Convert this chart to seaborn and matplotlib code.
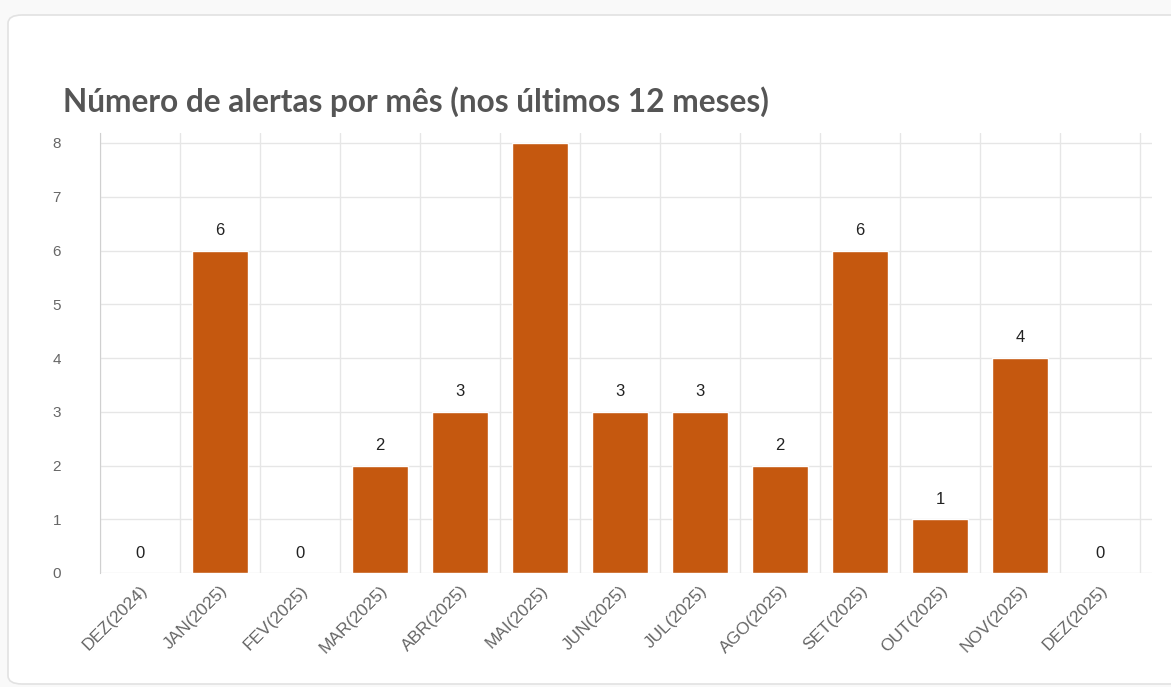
import matplotlib
matplotlib.use("Agg")
import matplotlib.pyplot as plt
import seaborn as sns
import numpy as np
from matplotlib.patches import FancyBboxPatch

# Data
months = ["DEZ(2024)", "JAN(2025)", "FEV(2025)", "MAR(2025)", "ABR(2025)", "MAI(2025)",
          "JUN(2025)", "JUL(2025)", "AGO(2025)", "SET(2025)", "OUT(2025)", "NOV(2025)", "DEZ(2025)"]
alerts = [0, 6, 0, 2, 3, 8, 3, 3, 2, 6, 1, 4, 0]

bar_color = "#C5580F"
grid_color = "#e6e6e6"

sns.set_style("white")
plt.rcParams['font.family'] = ['Liberation Sans', 'DejaVu Sans']

fig = plt.figure(figsize=(11.71, 6.87), dpi=100)
fig.patch.set_facecolor("#f9f9f9")

# card background
card = FancyBboxPatch((8 / 1171, 3 / 687), 1.2, 1 - 18 / 687,
                      boxstyle="round,pad=0,rounding_size=0.012",
                      transform=fig.transFigure, facecolor="white",
                      edgecolor="#e2e2e2", linewidth=1.2, zorder=-5)
fig.patches.append(card)

ax = fig.add_axes([100 / 1171, 114 / 687, 1052 / 1171, 440 / 687])
ax.set_facecolor("none")
ax.set_zorder(2)

sns.barplot(x=months, y=alerts, color=bar_color, width=0.69, saturation=1, ax=ax, zorder=3)

ax.set_ylim(0, 440 / 53.75)
ax.set_xlim(-0.5, -0.5 + 1052 / 80)
ax.set_yticks(range(0, 9))

# value labels (clipped at top like the original)
for i, v in enumerate(alerts):
    ax.annotate(str(v), (i, v), xytext=(0, 9), textcoords="offset points",
                ha="center", va="bottom", fontsize=12, color="#222222",
                annotation_clip=True, clip_on=True)

# grid
ax.set_xticks(np.arange(-0.5, 13, 1), minor=True)
ax.grid(True, axis="y", color=grid_color, linewidth=1, zorder=0)
ax.grid(True, axis="x", which="minor", color=grid_color, linewidth=1, zorder=0)
ax.grid(False, axis="x", which="major")
ax.set_axisbelow(True)

ax.tick_params(axis="x", which="major", length=0, pad=7)
ax.tick_params(axis="x", which="minor", length=9, color=grid_color, width=1)
ax.tick_params(axis="y", length=25, color=grid_color, width=1, pad=3,
               labelsize=11, labelcolor="#666666")
plt.setp(ax.get_xticklabels(), rotation=45, ha="right", rotation_mode="anchor",
         fontsize=12.5, color="#666666")

for s in ["top", "right", "bottom"]:
    ax.spines[s].set_visible(False)
ax.spines["left"].set_color("#d0d0d0")
ax.set_xlabel("")
ax.set_ylabel("")

fig.text(63 / 1171, 1 - 112 / 687, "Número de alertas por mês (nos últimos 12 meses)",
         fontsize=22.8, fontweight="bold", color="#555555",
         family=["Lato", "DejaVu Sans"], ha="left", va="baseline")

plt.savefig("out.png", dpi=100, facecolor=fig.get_facecolor())
